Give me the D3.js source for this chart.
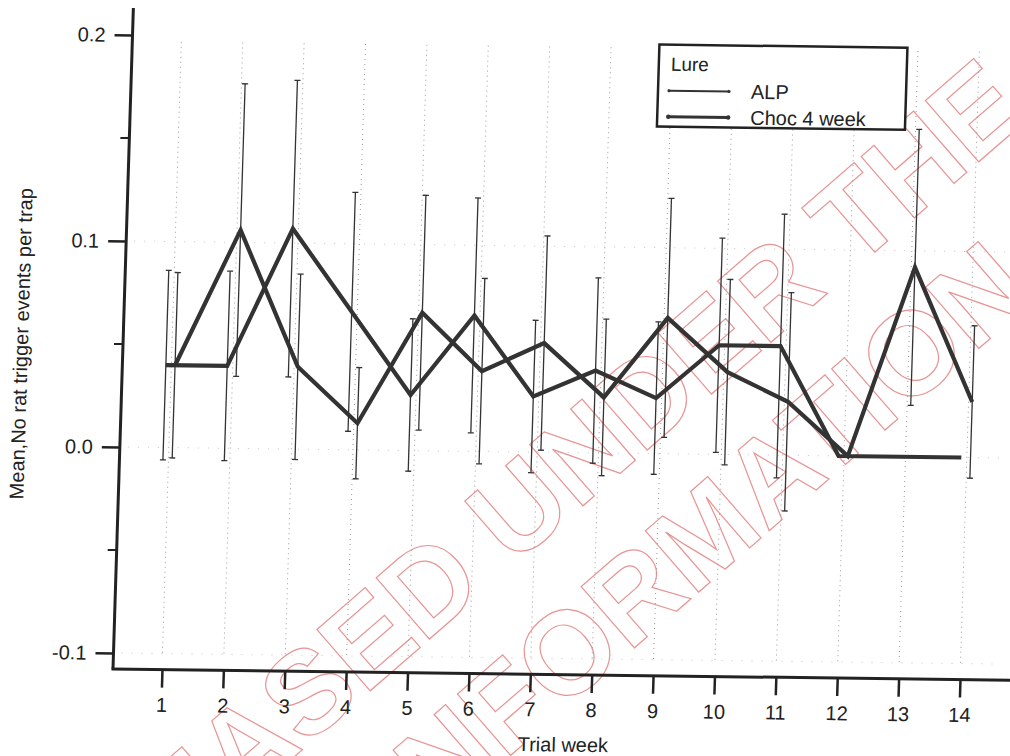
<!DOCTYPE html>
<html>
<head>
<meta charset="utf-8">
<script src="https://cdn.jsdelivr.net/npm/d3@7"></script>
<style>
  body { margin: 0; background: #fff; }
  svg text { font-family: "Liberation Sans", Arial, sans-serif; fill: #222; }
</style>
</head>
<body>
<svg id="chart" width="1010" height="756"></svg>
<script>
// Weekly data
const weeks = [1, 2, 3, 4, 5, 6, 7, 8, 9, 10, 11, 12, 13, 14];
const alpMean = [0.040, 0.040, 0.107, 0.067, 0.027, 0.066, 0.027, 0.040, 0.027, 0.053, 0.053, 0.000, 0.000, 0.000];
const alpErr  = [0.046, 0.046, 0.072, 0.058, 0.037, 0.057, 0.037, 0.045, 0.037, 0.052, 0.064, 0.000, 0.000, 0.000];
const chocMean = [0.040, 0.106, 0.040, 0.013, 0.067, 0.039, 0.053, 0.027, 0.066, 0.040, 0.026, 0.000, 0.092, 0.027];
const chocErr  = [0.045, 0.071, 0.045, 0.027, 0.057, 0.045, 0.052, 0.038, 0.058, 0.045, 0.053, 0.000, 0.067, 0.037];
const yTicks = [-0.1, 0.0, 0.1, 0.2];
const yMinorTicks = [-0.05, 0.05, 0.15];
const seriesNames = ["ALP", "Choc 4 week"];

const svg = d3.select("#chart");

// red stamp across the page
const stamp = svg.append("g")
    .style("pointer-events", "none");
[["RELEASED UNDER THE", 3, 1010], ["OFFICIAL INFORMATION ACT", -18, 1215]].forEach(([txt, tx, ty]) => {
    stamp.append("text")
        .attr("transform", `translate(${tx},${ty}) rotate(-41)`)
        .style("font-size", "118px")
        .style("font-weight", "bold")
        .style("fill", "none")
        .style("stroke", "#e89494")
        .style("stroke-width", 1.2)
        .text(txt);
});

// the scan is slightly skewed, so the whole chart sits in a sheared group
const ox = 113, oy = 669;
const kx = -0.0308, ky = 0.0125;
const g = svg.append("g")
    .attr("transform", `matrix(1,${ky},${kx},1,${-kx * oy},${-ky * ox})`);

const x = d3.scaleLinear().domain([1, 14]).range([162, 960]);
const y = d3.scaleLinear().domain([-0.1, 0.2]).range([653, 35]);

// faint dotted grid
g.append("g").selectAll("line.vgrid")
    .data(weeks)
    .join("line")
    .attr("x1", d => x(d)).attr("x2", d => x(d))
    .attr("y1", y(0.197)).attr("y2", y(-0.1))
    .attr("stroke", "#9a9a9a")
    .attr("stroke-width", 1)
    .attr("stroke-dasharray", "1,4");

g.append("g").selectAll("line.hgrid")
    .data(yTicks.slice(0, 3))
    .join("line")
    .attr("x1", ox + 8).attr("x2", 1000)
    .attr("y1", d => y(d)).attr("y2", d => y(d))
    .attr("stroke", "#c4c4c4")
    .attr("stroke-width", 1)
    .attr("stroke-dasharray", "1,9");

// y axis
const yAxis = g.append("g")
    .attr("transform", `translate(${ox},0)`)
    .call(d3.axisLeft(y).tickValues(yTicks).tickSize(18).tickPadding(9).tickFormat(d => d.toFixed(1)));
yAxis.select(".domain").remove();
yAxis.selectAll(".tick line").attr("stroke", "#222").attr("stroke-width", 2.5);
yAxis.selectAll(".tick text").style("font-size", "20px").attr("fill", "#222");

g.append("g").selectAll("line")
    .data(yMinorTicks)
    .join("line")
    .attr("x1", ox - 9).attr("x2", ox)
    .attr("y1", d => y(d)).attr("y2", d => y(d))
    .attr("stroke", "#222").attr("stroke-width", 2);

g.append("line")
    .attr("x1", ox).attr("x2", ox)
    .attr("y1", 8).attr("y2", oy)
    .attr("stroke", "#222").attr("stroke-width", 3);

// x axis
const xAxis = g.append("g")
    .attr("transform", `translate(0,${oy})`)
    .call(d3.axisBottom(x).tickValues(weeks).tickSize(18).tickPadding(10).tickFormat(d3.format("d")));
xAxis.select(".domain").remove();
xAxis.selectAll(".tick line").attr("stroke", "#222").attr("stroke-width", 2.5);
xAxis.selectAll(".tick text").style("font-size", "20px").attr("fill", "#222");

g.append("line")
    .attr("x1", ox - 1.5).attr("x2", 1030)
    .attr("y1", oy).attr("y2", oy)
    .attr("stroke", "#222").attr("stroke-width", 3);

// axis titles
g.append("text")
    .attr("x", 565)
    .attr("y", 746)
    .attr("text-anchor", "middle")
    .style("font-size", "20px")
    .text("Trial week");

g.append("text")
    .attr("transform", `translate(18,345) rotate(-90)`)
    .attr("text-anchor", "middle")
    .style("font-size", "20px")
    .text("Mean,No rat trigger events per trap");

// series: ALP sits a little left of the week, Choc a little right
const series = [
    { name: seriesNames[0], mean: alpMean, err: alpErr, shift: -0.09 },
    { name: seriesNames[1], mean: chocMean, err: chocErr, shift: 0.06 }
];

series.forEach(s => {
    const pts = weeks.map((w, i) => ({ w: w + s.shift, m: s.mean[i], e: s.err[i] }));

    const bars = g.append("g").selectAll("g")
        .data(pts.filter(d => d.e > 0))
        .join("g")
        .attr("stroke", "#333")
        .attr("stroke-width", 1.3);
    bars.append("line")
        .attr("x1", d => x(d.w)).attr("x2", d => x(d.w))
        .attr("y1", d => y(d.m + d.e)).attr("y2", d => y(d.m - d.e));
    bars.append("line")
        .attr("x1", d => x(d.w) - 3).attr("x2", d => x(d.w) + 3)
        .attr("y1", d => y(d.m + d.e)).attr("y2", d => y(d.m + d.e));
    bars.append("line")
        .attr("x1", d => x(d.w) - 3).attr("x2", d => x(d.w) + 3)
        .attr("y1", d => y(d.m - d.e)).attr("y2", d => y(d.m - d.e));

    g.append("path")
        .datum(pts)
        .attr("fill", "none")
        .attr("stroke", "#333")
        .attr("stroke-width", 4.2)
        .attr("stroke-linejoin", "miter")
        .attr("d", d3.line().x(d => x(d.w)).y(d => y(d.m)));
});

// legend
const legend = g.append("g");
legend.append("rect")
    .attr("x", 640).attr("y", 38)
    .attr("width", 248).attr("height", 82)
    .attr("fill", "#fff")
    .attr("stroke", "#222")
    .attr("stroke-width", 2.5);
legend.append("text")
    .attr("x", 652).attr("y", 64)
    .style("font-size", "19px")
    .text("Lure");

seriesNames.forEach((name, i) => {
    const ly = 84 + i * 26;
    const row = legend.append("g");
    row.append("line")
        .attr("x1", 651).attr("x2", 711)
        .attr("y1", ly).attr("y2", ly)
        .attr("stroke", "#333")
        .attr("stroke-width", i === 0 ? 1.8 : 3.2);
    row.selectAll("circle")
        .data([651, 711])
        .join("circle")
        .attr("cx", d => d).attr("cy", ly)
        .attr("r", i === 0 ? 1.6 : 2.2)
        .attr("fill", "#333");
    row.append("text")
        .attr("x", 733).attr("y", ly)
        .attr("dy", "0.35em")
        .style("font-size", "20px")
        .text(name);
});
</script>
</body>
</html>
